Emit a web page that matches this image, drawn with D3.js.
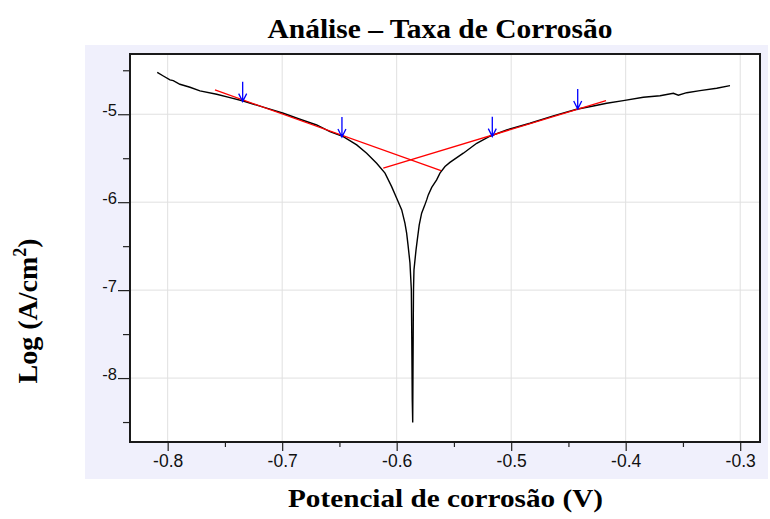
<!DOCTYPE html>
<html><head><meta charset="utf-8">
<script src="https://cdn.jsdelivr.net/npm/d3@7"></script>
<style>html,body{margin:0;padding:0;background:#fff;}</style>
</head><body>
<svg id="chart" width="770" height="519"></svg>
<script>
// ---- data ----
const curveE = [-0.8091,-0.8038,-0.7980,-0.7951,-0.7893,-0.7805,-0.7718,-0.7572,-0.7456,-0.7340,-0.7165,-0.6990,-0.6845,-0.6699,-0.6583,-0.6466,-0.6349,-0.6262,-0.6175,-0.6102,-0.6044,-0.6000,-0.5956,-0.5928,-0.5913,-0.5901,-0.5884,-0.5872,-0.5868,-0.5864,-0.5860,
  -0.5858,-0.5855,-0.5853,-0.5849,-0.5831,-0.5820,-0.5803,-0.5782,-0.5757,-0.5738,-0.5724,-0.5694,-0.5651,-0.5622,-0.5578,-0.5535,-0.5418,-0.5301,-0.5185,-0.5039,-0.4836,-0.4632,-0.4428,-0.4283,-0.4166,-0.4021,-0.3846,-0.3700,-0.3584,-0.3540,-0.3467,-0.3351,-0.3205,-0.3089];
const curveLogI = [-4.523,-4.565,-4.610,-4.618,-4.659,-4.693,-4.735,-4.773,-4.811,-4.849,-4.920,-4.989,-5.057,-5.122,-5.198,-5.255,-5.349,-5.443,-5.557,-5.670,-5.823,-5.955,-6.088,-6.239,-6.352,-6.485,-6.690,-6.997,-7.565,-8.247,-8.505,
  -8.019,-7.338,-6.994,-6.769,-6.542,-6.428,-6.258,-6.125,-6.042,-5.974,-5.917,-5.832,-5.747,-5.670,-5.595,-5.548,-5.443,-5.330,-5.250,-5.178,-5.102,-5.019,-4.943,-4.906,-4.875,-4.845,-4.807,-4.789,-4.761,-4.783,-4.755,-4.732,-4.705,-4.675];
const cathodicTafelE = [-0.7587, -0.5613];
const cathodicTafelLogI = [-4.724, -5.641];
const anodicTafelE = [-0.6117, -0.4172];
const anodicTafelLogI = [-5.614, -4.845];
const arrowE = [-0.7345, -0.6478, -0.5165, -0.4419];
const arrowLogI = [-4.857, -5.258, -5.255, -4.940];
const xTicks = [-0.8, -0.7, -0.6, -0.5, -0.4, -0.3];
const xTickLabels = ["-0.8", "-0.7", "-0.6", "-0.5", "-0.4", "-0.3"];
const xMinorTicks = [-0.75, -0.65, -0.55, -0.45, -0.35];
const yTicks = [-8, -7, -6, -5];
const yTickLabels = ["-8", "-7", "-6", "-5"];
const yMinorTicks = [-8.5, -7.5, -6.5, -5.5, -4.5];
const xDomain = [-0.8329, -0.2827];
const yDomain = [-8.727, -4.315];
const titleText = "Análise – Taxa de Corrosão";
const xLabelText = "Potencial de corrosão (V)";

// ---- layout ----
const svg = d3.select("#chart");
const L = 130, R = 760, T = 54, B = 442;
const x = d3.scaleLinear().domain(xDomain).range([L, R]);
const y = d3.scaleLinear().domain(yDomain).range([B, T]);

svg.append("rect").attr("x", 85).attr("y", 45).attr("width", 683).attr("height", 434).attr("fill", "#f0f0fc");
svg.append("rect").attr("x", L).attr("y", T).attr("width", R - L).attr("height", B - T).attr("fill", "#fff");

// grid
const g = svg.append("g");
g.selectAll(".vg").data(xTicks).join("line")
  .attr("x1", d => x(d)).attr("x2", d => x(d)).attr("y1", T).attr("y2", B)
  .attr("stroke", "#e0e0e0").attr("stroke-width", 1);
g.selectAll(".hg").data(yTicks).join("line")
  .attr("x1", L).attr("x2", R).attr("y1", d => y(d)).attr("y2", d => y(d))
  .attr("stroke", "#e0e0e0").attr("stroke-width", 1);

// axes
const xAxis = svg.append("g").attr("transform", `translate(0,${B})`)
  .call(d3.axisBottom(x).tickValues(xTicks).tickFormat((d, i) => xTickLabels[i]).tickSize(9).tickPadding(4));
const xMinor = svg.append("g").attr("transform", `translate(0,${B})`)
  .call(d3.axisBottom(x).tickValues(xMinorTicks).tickFormat("").tickSize(5));
const yAxis = svg.append("g").attr("transform", `translate(${L},0)`)
  .call(d3.axisLeft(y).tickValues(yTicks).tickFormat((d, i) => yTickLabels[i]).tickSize(12).tickPadding(1));
const yMinor = svg.append("g").attr("transform", `translate(${L},0)`)
  .call(d3.axisLeft(y).tickValues(yMinorTicks).tickFormat("").tickSize(7));
[xAxis, xMinor, yAxis, yMinor].forEach(a => {
  a.select(".domain").remove();
  a.selectAll(".tick line").attr("stroke", "#222").attr("stroke-width", 1.2);
});
xAxis.selectAll(".tick text").attr("font-family", "Liberation Sans, Arial, sans-serif").attr("font-size", 17.5).attr("fill", "#111");
yAxis.selectAll(".tick text").attr("font-family", "Liberation Sans, Arial, sans-serif").attr("font-size", 16.5).attr("fill", "#111")
  .attr("dy", "0").attr("y", 1);

// frame
svg.append("rect").attr("x", L).attr("y", T).attr("width", R - L).attr("height", B - T)
  .attr("fill", "none").attr("stroke", "#1a1a1a").attr("stroke-width", 2);

// curve
const pts = curveE.map((e, i) => [e, curveLogI[i]]);
const line = d3.line().x(d => x(d[0])).y(d => y(d[1]));
svg.append("path").datum(pts).attr("d", line).attr("fill", "none").attr("stroke", "#000").attr("stroke-width", 1.4);

// tafel lines
[[cathodicTafelE, cathodicTafelLogI], [anodicTafelE, anodicTafelLogI]].forEach(([es, ls]) => {
  svg.append("path").datum(es.map((e, i) => [e, ls[i]])).attr("d", line)
    .attr("fill", "none").attr("stroke", "#ff0000").attr("stroke-width", 1.3);
});

// arrows
const arr = svg.append("g").attr("stroke", "#0000ff").attr("stroke-width", 1.3).attr("fill", "none");
arrowE.forEach((e, i) => {
  const ax = x(e), ay = y(arrowLogI[i]);
  arr.append("path").attr("d", `M${ax},${ay - 20}L${ax},${ay}M${ax - 4},${ay - 8}L${ax},${ay}L${ax + 4},${ay - 8}`);
});

// titles
const serif = "Liberation Serif, Times New Roman, serif";
svg.append("text").attr("x", 440).attr("y", 38).attr("text-anchor", "middle")
  .attr("font-family", serif).attr("font-weight", "bold").attr("font-size", 27)
  .attr("textLength", 345).attr("lengthAdjust", "spacingAndGlyphs").text(titleText);
svg.append("text").attr("x", 445.5).attr("y", 507).attr("text-anchor", "middle")
  .attr("font-family", serif).attr("font-weight", "bold").attr("font-size", 26)
  .attr("textLength", 315).attr("lengthAdjust", "spacingAndGlyphs").text(xLabelText);
const yl = svg.append("text").attr("transform", "translate(37,311) rotate(-90)").attr("text-anchor", "middle")
  .attr("font-family", serif).attr("font-weight", "bold").attr("font-size", 28);
yl.append("tspan").text("Log (A/cm");
yl.append("tspan").attr("font-size", 18).attr("dy", -11).text("2");
yl.append("tspan").attr("dy", 11).text(")");
</script>
</body></html>
